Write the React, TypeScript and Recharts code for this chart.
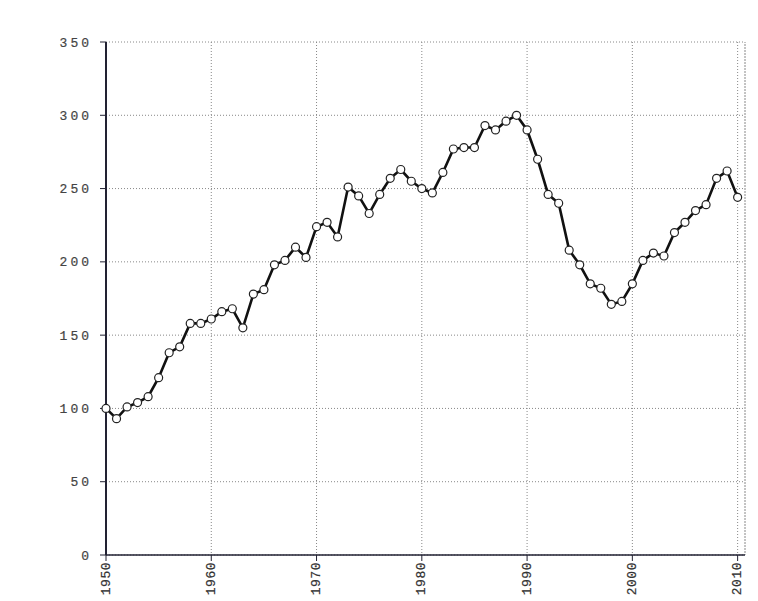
import { CartesianGrid, Line, LineChart, ReferenceLine, XAxis, YAxis } from "recharts";

const years = [
  1950, 1951, 1952, 1953, 1954, 1955, 1956, 1957, 1958, 1959,
  1960, 1961, 1962, 1963, 1964, 1965, 1966, 1967, 1968, 1969,
  1970, 1971, 1972, 1973, 1974, 1975, 1976, 1977, 1978, 1979,
  1980, 1981, 1982, 1983, 1984, 1985, 1986, 1987, 1988, 1989,
  1990, 1991, 1992, 1993, 1994, 1995, 1996, 1997, 1998, 1999,
  2000, 2001, 2002, 2003, 2004, 2005, 2006, 2007, 2008, 2009,
  2010,
];

const values = [
  100, 93, 101, 104, 108, 121, 138, 142, 158, 158,
  161, 166, 168, 155, 178, 181, 198, 201, 210, 203,
  224, 227, 217, 251, 245, 233, 246, 257, 263, 255,
  250, 247, 261, 277, 278, 278, 293, 290, 296, 300,
  290, 270, 246, 240, 208, 198, 185, 182, 171, 173,
  185, 201, 206, 204, 220, 227, 235, 239, 257, 262,
  244,
];

const xTicks = [1950, 1960, 1970, 1980, 1990, 2000, 2010];
const yTicks = [0, 50, 100, 150, 200, 250, 300, 350];
const X_MAX = 2010.7;

const data = years.map((year, i) => ({ year, value: values[i] }));

const font = "'Liberation Mono', 'DejaVu Sans Mono', monospace";

// rotated year labels under the axis
function YearTick(props: any) {
  const { x, y, payload } = props;
  return (
    <text
      x={x}
      y={y}
      transform={`rotate(-90, ${x}, ${y})`}
      textAnchor="end"
      dominantBaseline="central"
      fontSize={13}
      letterSpacing={0.5}
      fontFamily={font}
      fill="#333"
      stroke="#333"
      strokeWidth={0.2}
    >
      {payload.value}
    </text>
  );
}

export default function App() {
  return (
    <div style={{ position: "absolute", left: 0, top: 0, background: "#fff" }}>
      <LineChart
        width={758}
        height={601}
        data={data}
        margin={{ top: 42, right: 13, left: 0, bottom: 0 }}
      >
        <CartesianGrid stroke="#888" strokeDasharray="1 2" />
        <XAxis
          dataKey="year"
          type="number"
          domain={[1950, X_MAX]}
          ticks={xTicks}
          height={46}
          tick={<YearTick />}
          tickSize={6}
          tickMargin={1}
          axisLine={{ stroke: "#223", strokeWidth: 1.5 }}
          tickLine={{ stroke: "#223" }}
          interval={0}
        />
        <YAxis
          domain={[0, 350]}
          ticks={yTicks}
          width={106}
          tickSize={6}
          tickMargin={8}
          tick={{
            fontSize: 13,
            fontFamily: font,
            fill: "#444",
            stroke: "#444",
            strokeWidth: 0.2,
            letterSpacing: 3,
          }}
          axisLine={{ stroke: "#223", strokeWidth: 2 }}
          tickLine={{ stroke: "#223" }}
          interval={0}
        />
        <ReferenceLine x={X_MAX} stroke="#888" strokeDasharray="1 2" />
        <Line
          type="linear"
          dataKey="value"
          stroke="#111"
          strokeWidth={2.6}
          dot={{ r: 4, fill: "#fff", stroke: "#222", strokeWidth: 1.2 }}
          isAnimationActive={false}
        />
      </LineChart>
    </div>
  );
}
